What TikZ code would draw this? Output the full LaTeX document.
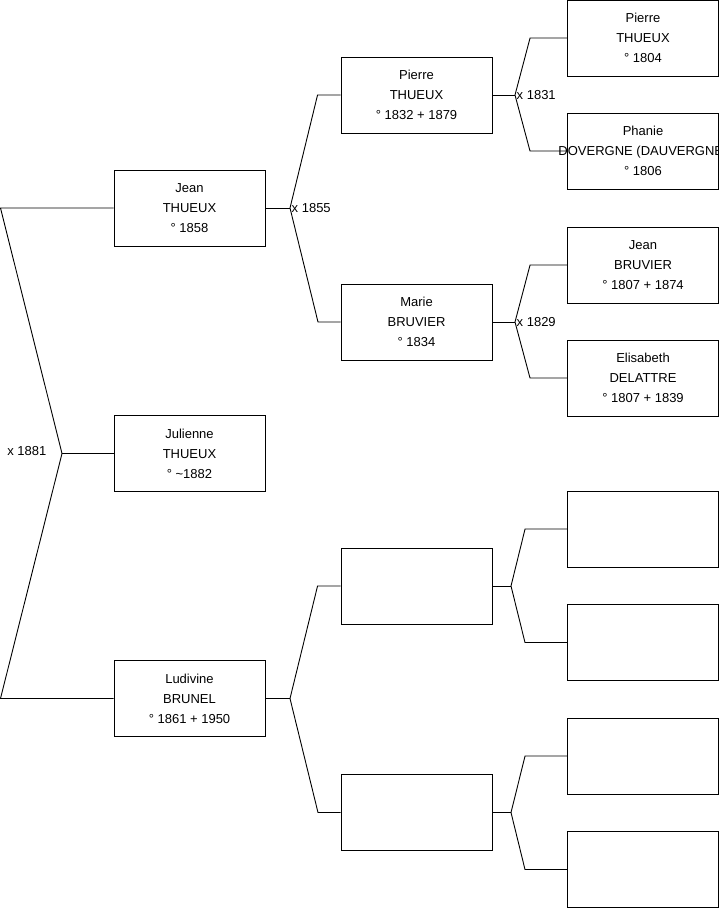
\documentclass[tikz,border=0pt]{standalone}
\usepackage{fontspec}
\setmainfont{Liberation Sans}

\tikzset{
  person/.style={draw, line width=0.9pt, minimum width=151pt, minimum height=76pt,
    inner sep=0pt, align=center, font=\fontsize{13}{20}\selectfont},
  link/.style={line width=0.9pt},
  wedding/.style={font=\fontsize{13}{15}\selectfont, inner sep=1.5pt}
}

\begin{document}
\begin{tikzpicture}[x=1pt,y=-1pt]
    \useasboundingbox (0,0) rectangle (719,908);

    % Generation 1
    \node[person] (jean) at (189.5,208) {Jean\\THUEUX\\° 1858};
    \node[person] (julienne) at (189.5,453.5) {Julienne\\THUEUX\\° \char`~1882};
    \node[person] (ludivine) at (189.5,698.5) {Ludivine\\BRUNEL\\° 1861 + 1950};

    % Generation 2
    \node[person] (pierre) at (416.5,95) {Pierre\\THUEUX\\° 1832 + 1879};
    \node[person] (marie) at (416.5,322) {Marie\\BRUVIER\\° 1834};
    \node[person] (p3) at (416.5,586) {};
    \node[person] (p4) at (416.5,812.5) {};

    % Generation 3
    \node[person] (pierreA) at (643,38) {Pierre\\THUEUX\\° 1804};
    \node[person] (phanie) at (643,151) {Phanie\\\makebox[0pt][c]{DOVERGNE (DAUVERGNE)}\\° 1806};
    \node[person] (jeanB) at (643,265) {Jean\\BRUVIER\\° 1807 + 1874};
    \node[person] (elisabeth) at (643,378) {Elisabeth\\DELATTRE\\° 1807 + 1839};
    \node[person] (g5) at (643,529) {};
    \node[person] (g6) at (643,642.5) {};
    \node[person] (g7) at (643,756) {};
    \node[person] (g8) at (643,869.5) {};

    % Fork x 1881
    \coordinate (ftop) at (0.5,208);
    \coordinate (fmid) at (62,453.5);
    \coordinate (fbot) at (0.5,698.5);
    \draw[link] (jean.west) -- (ftop) -- (fmid) -- (fbot) -- (ludivine.west);
    \draw[link] (fmid) -- (julienne.west);
    \node[wedding, anchor=east] (x1881) at (48,451) {x 1881};

    % Fork x 1855
    \coordinate (f1) at (290,208);
    \draw[link] (jean.east) -- (f1);
    \draw[link] (pierre.west) -- ++(-23,0) -- (f1) -- (318,322) -- (marie.west);
    \node[wedding, right] (x1855) at (f1) {x 1855};

    % Fork x 1831
    \coordinate (f2) at (515,95);
    \draw[link] (pierre.east) -- (f2);
    \draw[link] (pierreA.west) -- ++(-37,0) -- (f2) -- (530,151) -- (phanie.west);
    \node[wedding, right] (x1831) at (f2) {x 1831};

    % Fork x 1829
    \coordinate (f3) at (515,322);
    \draw[link] (marie.east) -- (f3);
    \draw[link] (jeanB.west) -- ++(-37,0) -- (f3) -- (530,378) -- (elisabeth.west);
    \node[wedding, right] (x1829) at (f3) {x 1829};

    % Forks without date
    \coordinate (f4) at (290,698.5);
    \draw[link] (ludivine.east) -- (f4);
    \draw[link] (p3.west) -- ++(-23,0) -- (f4) -- (318,812.5) -- (p4.west);

    \coordinate (f5) at (511,586);
    \draw[link] (p3.east) -- (f5);
    \draw[link] (g5.west) -- ++(-42,0) -- (f5) -- (525,642.5) -- (g6.west);

    \coordinate (f6) at (511,812.5);
    \draw[link] (p4.east) -- (f6);
    \draw[link] (g7.west) -- ++(-42,0) -- (f6) -- (525,869.5) -- (g8.west);
\end{tikzpicture}
\end{document}
